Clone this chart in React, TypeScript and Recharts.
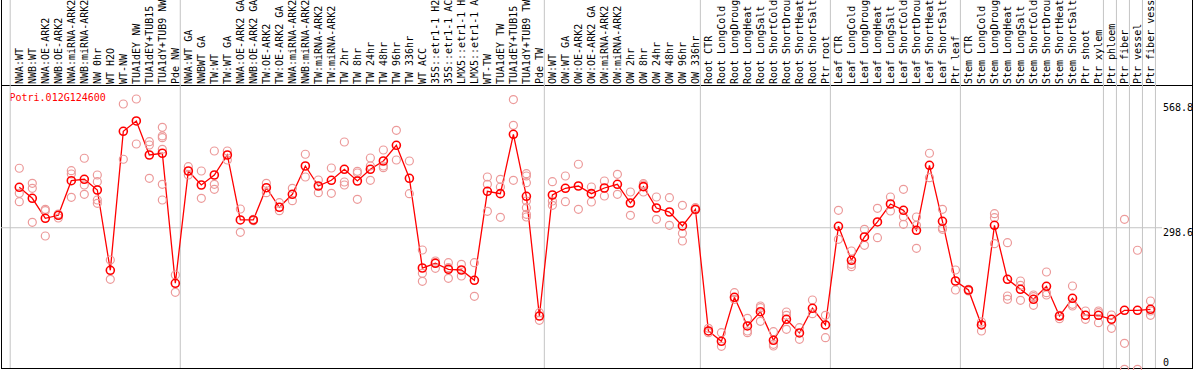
import React from 'react';
import { ComposedChart, Line, Scatter, XAxis, YAxis, ReferenceLine, Customized } from 'recharts';

const title = 'Potri.012G124600';

const categories = [
  'NWA:WT', 'NWB:WT', 'NWA:OE-ARK2', 'NWB:OE-ARK2', 'NWA:miRNA-ARK2', 'NWB:miRNA-ARK2', 'NW 0hr', 'WT H2O', 'WT-NW', 'TUA1dEY NW', 'TUA1dEY+TUB15', 'TUA1dY+TUB9 NW', 'Pde NW',
  'NWA:WT GA', 'NWBWT GA', 'TW:WT', 'TW:WT GA', 'NWA:OE-ARK2 GA', 'NWB:OE-ARK2 GA', 'TW:OE-ARK2', 'TW:OE-ARK2 GA', 'NWA:miRNA-ARK2', 'NWB:miRNA-ARK2', 'TW:miRNA-ARK2', 'TW:miRNA-ARK2',
  'TW 2hr', 'TW 8hr', 'TW 24hr', 'TW 48hr', 'TW 96hr', 'TW 336hr', 'WT ACC', '35S::etr1-1 H2', '35S::etr1-1 AC', 'LMX5::etr1-1 H', 'LMX5::etr1-1 A', 'WT-TW', 'TUA1dEY TW', 'TUA1dEY+TUB15', 'TUA1dY+TUB9 TW', 'Pde TW',
  'OW:WT', 'OW:WT GA', 'OW:OE-ARK2', 'OW:OE-ARK2 GA', 'OW:miRNA-ARK2', 'OW:miRNA-ARK2', 'OW 2hr', 'OW 8hr', 'OW 24hr', 'OW 48hr', 'OW 96hr', 'OW 336hr',
  'Root CTR', 'Root LongCold', 'Root LongDroug', 'Root LongHeat', 'Root LongSalt', 'Root ShortCold', 'Root ShortDrou', 'Root ShortHeat', 'Root ShortSalt', 'Ptr root',
  'Leaf CTR', 'Leaf LongCold', 'Leaf LongDroug', 'Leaf LongHeat', 'Leaf LongSalt', 'Leaf ShortCold', 'Leaf ShortDrou', 'Leaf ShortHeat', 'Leaf ShortSalt', 'Ptr leaf',
  'Stem CTR', 'Stem LongCold', 'Stem LongDroug', 'Stem LongHeat', 'Stem LongSalt', 'Stem ShortCold', 'Stem ShortDrou', 'Stem ShortHeat', 'Stem ShortSalt', 'Ptr shoot', 'Ptr xylem',
  'Ptr phloem', 'Ptr fiber', 'Ptr vessel', 'Ptr fiber vess',
];

const means = [
  383.5, 360.4, 318.4, 324.7, 397.3, 400.3, 377.8, 209.3, 501.0, 522.7, 451.3, 454.9, 182.0,
  417.7, 388.3, 409.3, 451.3, 314.9, 314.9, 382.6, 341.5, 368.8, 428.2, 386.2, 398.2, 421.3, 396.7, 421.3, 438.7, 471.6, 402.4,
  214.1, 224.0, 211.4, 209.9, 188.3, 375.1, 370.1, 494.7, 364.6, 113.3,
  367.3, 381.4, 386.2, 370.1, 382.0, 389.8, 350.5, 384.8, 340.0, 331.6, 302.3, 337.3,
  81.9, 60.2, 152.6, 92.4, 122.4, 62.3, 106.4, 77.7, 129.5, 94.5,
  301.6, 230.3, 279.2, 310.7, 348.4, 335.2, 293.2, 429.7, 312.1, 186.8,
  167.9, 94.5, 303.7, 190.4, 169.4, 148.4, 175.7, 113.3, 150.5, 114.8, 114.8,
  106.4, 125.3, 125.3, 127.4,
];

const replicates = [
  [423.4, 370.9, 353.3], [391.9, 381.4, 310.0], [337.3, 334.4, 281.3], [327.4, 324.7, 319.0],
  [418.3, 411.4, 362.5], [444.4, 388.3, 368.8], [409.3, 395.2, 356.8, 349.9], [230.9, 190.4],
  [558.3, 442.3], [568.8, 474.4], [479.2, 472.3, 402.4], [509.4, 491.2, 487.6, 463.2, 389.8, 356.8],
  [199.4, 163.1],
  [426.7, 409.3], [417.7, 360.4], [459.7, 389.8, 379.3], [459.7, 440.8], [337.9, 289.0], [316.3, 313.4],
  [391.9, 372.2], [351.2, 334.4], [381.4, 355.3], [452.8, 405.1], [398.8, 372.2], [424.0, 370.9],
  [478.6, 394.6, 388.3], [417.1, 413.5, 358.3], [445.0, 428.2, 398.2], [461.8, 428.2, 424.6], [503.1, 440.8],
  [438.7, 370.1], [251.9, 203.0, 186.2], [228.8, 225.2, 213.5], [225.2, 214.7, 192.5], [221.9, 197.3],
  [225.2, 154.7], [405.1, 389.8, 333.1], [400.3, 384.1, 320.5], [567.5, 513.6, 398.2],
  [412.0, 407.2, 393.1, 354.7, 340.7, 326.8, 321.1], [120.3, 104.3],
  [395.2, 354.7, 345.7], [407.2, 353.3], [431.8, 337.3], [384.1, 352.6], [396.7, 365.2], [410.8, 368.8],
  [373.6, 324.7], [391.0, 388.3, 373.6], [363.1, 316.3], [361.7, 303.7], [345.7, 286.9, 270.8], [340.7, 335.8],
  [87.5, 78.3], [78.3, 49.7], [162.3, 148.4], [108.5, 81.9, 78.3], [134.3, 130.8, 102.2], [80.4, 53.9, 50.4],
  [121.7, 114.8, 85.4], [88.8, 64.4], [146.9, 118.2], [114.8, 67.8],
  [335.2, 274.3], [249.8, 221.9, 216.8], [295.3, 261.7], [339.4, 277.7], [363.1, 333.7], [379.3, 321.8, 305.8],
  [321.1, 303.7, 255.4], [454.9, 403.6], [337.3, 298.7, 295.3], [209.9, 167.9],
  [169.4, 165.8], [100.8, 81.9], [328.1, 319.7, 265.1], [267.2, 155.3, 148.4], [186.8, 177.8, 146.3],
  [157.4, 153.9, 135.8], [205.7, 162.3, 157.4], [114.8, 107.7], [176.3, 137.9, 134.3], [123.8, 106.4],
  [123.8, 120.3, 99.3],
  [115.4, 87.5], [316.3, 56.0, 1.5], [251.3, 1.5], [144.8, 123.8, 114.8],
];

const yTicks = [0, 298.6, 568.8];
const groupEdges = [-0.7, 12.38, 40.38, 52.38, 62.38, 72.38, 83.38, 84.38, 85.38, 86.38, 87.38];

const lineData = means.map((v, i) => ({ i, v }));
const repData = replicates.flatMap((arr, i) => arr.map((v) => ({ i, v })));
const xTicks = categories.map((_, i) => i);

const MONO = '"DejaVu Sans Mono", "Liberation Mono", monospace';
const GRID = '#c4c4c4';

const HeaderTick = (props: any) => {
  const { x, payload } = props;
  const label = categories[payload.value] ?? '';
  const tx = x + 3.5;
  const ty = 84;
  return (
    <text x={tx} y={ty} transform={`rotate(-90 ${tx} ${ty})`} textAnchor="start" fontFamily={MONO} fontSize={10} fill="#000">
      {label}
    </text>
  );
};

const RightTick = (props: any) => {
  const { y, payload } = props;
  const v = Number(payload.value);
  const dy = v === 0 ? -4 : v === 568.8 ? 11.5 : 8.5;
  return (
    <text x={1163} y={y + dy} fontFamily={MONO} fontSize={10} fill="#000">
      {String(v)}
    </text>
  );
};

const VLine = (props: any) => <line x1={props.x1} x2={props.x2} y1={0} y2={368} stroke={GRID} strokeWidth={1} />;
const HLine = (props: any) => <line x1={1} x2={1162} y1={props.y1} y2={props.y2} stroke={GRID} strokeWidth={1} />;

const RepShape = (props: any) => (
  <circle cx={props.cx} cy={props.cy} r={4} fill="none" stroke="#ec9a9a" strokeWidth={1.2} />
);

const Frame = () => (
  <g>
    <line x1={1.5} x2={1.5} y1={0} y2={369} stroke="#000" strokeWidth={1} />
    <line x1={1192.5} x2={1192.5} y1={0} y2={369} stroke="#000" strokeWidth={1} />
    <line x1={1} x2={1193} y1={85.5} y2={85.5} stroke="#000" strokeWidth={1} />
    <line x1={1} x2={1193} y1={368.5} y2={368.5} stroke="#000" strokeWidth={1} />
    <text x={9.5} y={100.5} fontFamily={MONO} fontSize={10} fill="#ff0000">
      {title}
    </text>
  </g>
);

export default function App() {
  return (
    <div style={{ position: 'absolute', left: 0, top: 0, width: 1194, height: 370, background: '#fff' }}>
      <ComposedChart width={1194} height={370} data={lineData} margin={{ top: 0, right: 0, bottom: 0, left: 9.55 }}>
        <XAxis
          type="number"
          dataKey="i"
          orientation="top"
          domain={[-0.75, 87.5]}
          ticks={xTicks}
          interval={0}
          height={99}
          axisLine={false}
          tickLine={false}
          tick={<HeaderTick />}
        />
        <YAxis
          orientation="right"
          domain={[0, 568.8]}
          ticks={yTicks}
          interval={0}
          width={37}
          axisLine={false}
          tickLine={false}
          tick={<RightTick />}
        />
        {groupEdges.map((g) => (
          <ReferenceLine key={g} x={g} shape={VLine} />
        ))}
        <ReferenceLine y={298.6} shape={HLine} />
        <Customized component={Frame} />
        <Scatter data={repData} dataKey="v" shape={RepShape} isAnimationActive={false} />
        <Line
          data={lineData}
          dataKey="v"
          stroke="#ff0000"
          strokeWidth={1.3}
          dot={{ r: 4, stroke: '#ff0000', strokeWidth: 1.6, fill: 'none' }}
          isAnimationActive={false}
        />
      </ComposedChart>
    </div>
  );
}
